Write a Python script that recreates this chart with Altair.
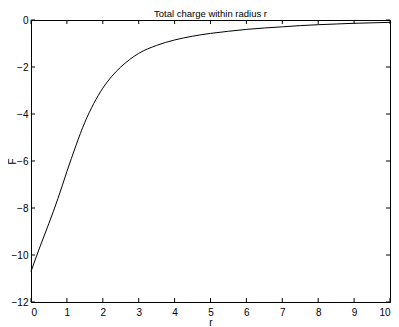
import altair as alt
import pandas as pd

r_vals = [0.0, 0.25, 0.5, 0.75, 1.0, 1.25, 1.5, 1.75, 2.0, 2.25, 2.5, 2.75, 3.0,
          3.5, 4.0, 4.5, 5.0, 5.5, 6.0, 6.5, 7.0, 7.5, 8.0, 8.5, 9.0, 9.5, 10.0]
F_vals = [-10.7, -9.65, -8.65, -7.6, -6.45, -5.35, -4.35, -3.55, -2.9, -2.4, -2.0, -1.68, -1.42,
          -1.08, -0.85, -0.69, -0.57, -0.48, -0.40, -0.34, -0.29, -0.24, -0.20, -0.17, -0.14, -0.12, -0.10]
x_ticks = [0, 1, 2, 3, 4, 5, 6, 7, 8, 9, 10]
y_ticks = [0, -2, -4, -6, -8, -10, -12]
title_text = ["Total charge within radius r"]

W, H = 359, 282
FONT = "Liberation Sans"

df = pd.DataFrame({"r": r_vals, "F": F_vals})
dx = pd.DataFrame({"t": x_ticks})
dy = pd.DataFrame({"t": y_ticks})
dt = pd.DataFrame({"label": title_text})

xs = alt.Scale(domain=[0, 10], nice=False, zero=False)
ys = alt.Scale(domain=[-12, 0], nice=False, zero=False)

x_axis = alt.Axis(values=x_ticks, ticks=False, domain=False, grid=False,
                  labelFont=FONT, labelFontSize=10, labelColor="black", labelPadding=5,
                  labelOverlap=False,
                  titleFont=FONT, titleFontSize=10, titleFontWeight="normal",
                  titleColor="black", titleX=W / 2, titleY=23,
                  titleBaseline="alphabetic", format="d")
y_axis = alt.Axis(values=y_ticks, ticks=False, domain=False, grid=False,
                  labelFont=FONT, labelFontSize=10, labelColor="black", labelPadding=3,
                  labelOverlap=False,
                  titleFont=FONT, titleFontSize=10, titleFontWeight="normal",
                  titleColor="black", titleX=-19, titleY=H / 2,
                  titleBaseline="middle", titleAngle=270, format="d")

line = alt.Chart(df).mark_line(color="black", strokeWidth=1, interpolate="monotone").encode(
    x=alt.X("r:Q", scale=xs, title="r", axis=x_axis),
    y=alt.Y("F:Q", scale=ys, title="F", axis=y_axis),
)

tick_style = dict(color="black", strokeWidth=1)
xt_top = alt.Chart(dx).mark_rule(**tick_style).encode(
    x=alt.X("t:Q", scale=xs, title="r", axis=x_axis), y=alt.value(0), y2=alt.value(4))
xt_bot = alt.Chart(dx).mark_rule(**tick_style).encode(
    x=alt.X("t:Q", scale=xs, title="r", axis=x_axis), y=alt.value(H - 4), y2=alt.value(H))
yt_left = alt.Chart(dy).mark_rule(**tick_style).encode(
    y=alt.Y("t:Q", scale=ys, title="F", axis=y_axis), x=alt.value(0), x2=alt.value(4))
yt_right = alt.Chart(dy).mark_rule(**tick_style).encode(
    y=alt.Y("t:Q", scale=ys, title="F", axis=y_axis), x=alt.value(W - 4), x2=alt.value(W))

title = alt.Chart(dt).mark_text(font=FONT, fontSize=9.5, color="black",
                                align="center", baseline="alphabetic").encode(
    text="label:N", x=alt.value(W / 2), y=alt.value(-3))

chart = alt.layer(line, xt_top, xt_bot, yt_left, yt_right, title).properties(
    width=W, height=H,
    autosize=alt.AutoSizeParams(type="none"),
    padding={"left": 23, "top": 12, "right": 1, "bottom": 25},
    background="white",
).configure_view(stroke="black", strokeWidth=1)

chart.save("out.html", embed_options={"renderer": "svg", "actions": False})
